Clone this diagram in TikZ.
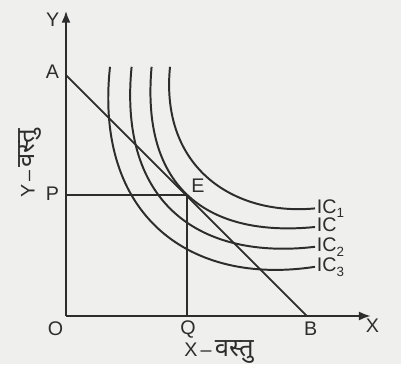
\documentclass[tikz,border=0pt]{standalone}
\usepackage{fontspec}
\setmainfont{Liberation Sans}
\newfontfamily\hindi[Script=Devanagari,Scale=1.3]{Noto Sans}
\usetikzlibrary{arrows.meta}
\definecolor{ink}{RGB}{45,45,45}
\definecolor{paper}{RGB}{239,239,237}
\newcommand{\icsub}[1]{\raisebox{-3.3pt}{\fontsize{9.5}{9.5}\selectfont #1}}
\tikzset{
  axis/.style={ink, line width=1.5pt, -{Latex[length=8.5pt,width=6.5pt]}},
  guide/.style={ink, line width=1.3pt},
  iccurve/.style={ink, line width=1.4pt},
  lbl/.style={ink, inner sep=0pt, font=\fontsize{14}{16}\selectfont},
  iclabel/.style={lbl, anchor=base west, xshift=1.1pt, yshift=-3.5pt},
}
\begin{document}
\begin{tikzpicture}
\fill[paper] (-1.65,-1.2) rectangle (8.375,7.9);
\useasboundingbox (-1.65,-1.2) rectangle (8.375,7.9);

% Axes
\coordinate (O) at (0,0);
\coordinate (Ytop) at (0,7.63);
\coordinate (Xend) at (7.62,0);
\draw[axis] (O) -- (Ytop);
\draw[axis] (O) -- (Xend);
\node[lbl] (ylab) at (-0.33,7.4) {Y};
\node[lbl] (xlab) at (7.66,-0.25) {X};
\node[lbl] (olab) at (-0.26,-0.33) {O};
\node[lbl, rotate=90] (ytitle) at (-0.9,3.82) {Y\,–\,{\hindi वस्तु}};
\node[lbl, anchor=base] (xtitle) at (3.825,-1.017) {X\,–\,{\hindi वस्तु}};

% Budget line
\coordinate (A) at (0,6.02);
\coordinate (B) at (6.02,0);
\draw[guide] (A) -- (B);
\node[lbl] (alab) at (-0.34,6.1) {A};
\node[lbl] (blab) at (6.12,-0.31) {B};

% Equilibrium
\coordinate (E) at (3.02,3.03);
\coordinate (P) at (0,3.03);
\coordinate (Q) at (3.02,0);
\draw[guide] (P) -- (E) -- (Q);
\node[lbl] (plab) at (-0.34,3.06) {P};
\node[lbl] (qlab) at (3.05,-0.33) {Q};
\node[lbl] (elab) at (3.3,3.25) {E};

% Indifference curves
\coordinate (ic1end) at (6.225,2.69);
\coordinate (icend) at (6.225,2.225);
\coordinate (ic2end) at (6.225,1.73);
\coordinate (ic3end) at (6.225,1.23);
\draw[iccurve] (2.6,6.23) .. controls (2.35,3.7) and (4.2,2.5) .. (ic1end);
\draw[iccurve] (2.14,6.23) .. controls (1.85,3.0) and (3.75,1.98) .. (icend);
\draw[iccurve] (1.64,6.23) .. controls (1.3,2.75) and (3.4,1.4) .. (ic2end);
\draw[iccurve] (1.1,6.23) .. controls (0.7,2.5) and (3.1,0.75) .. (ic3end);
\node[iclabel] (ic1lab) at (ic1end) {IC\icsub{1}};
\node[iclabel] (iclab) at (icend) {IC};
\node[iclabel] (ic2lab) at (ic2end) {IC\icsub{2}};
\node[iclabel] (ic3lab) at (ic3end) {IC\icsub{3}};
\end{tikzpicture}
\end{document}
